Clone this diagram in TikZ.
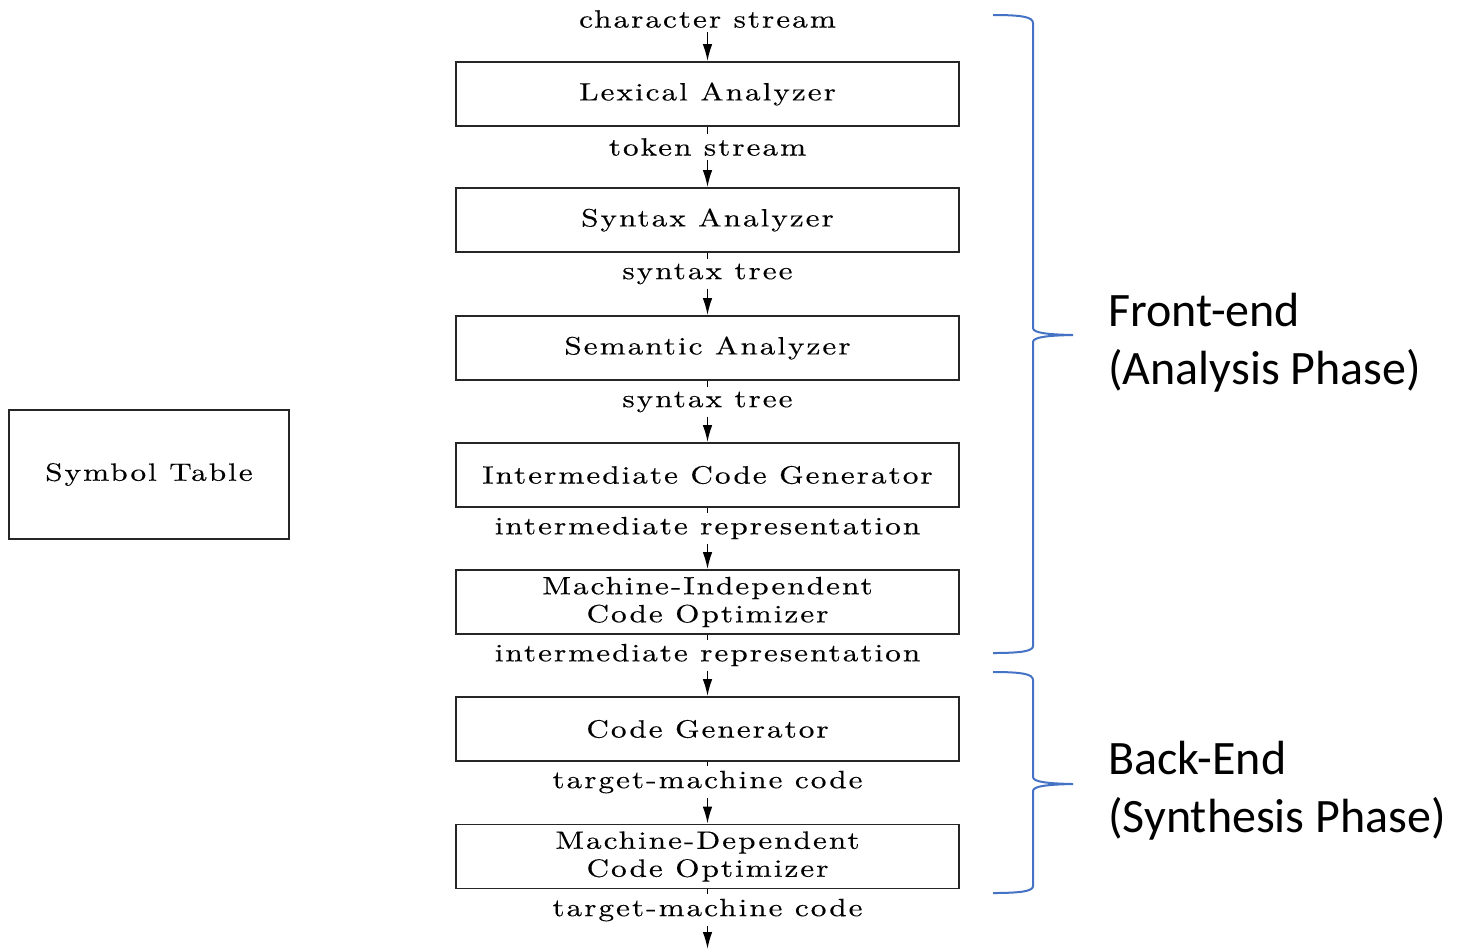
\documentclass[tikz,border=0pt]{standalone}
\usepackage{fontspec}
\usetikzlibrary{arrows.meta}
\newfontfamily\lmsp[LetterSpace=8, FakeStretch=1.25, FakeBold=0.3]{lmroman10-regular.otf}
\newfontfamily\calib{Carlito}
\definecolor{braceblue}{HTML}{4472C4}
\begin{document}
\begin{tikzpicture}[x=0.5pt,y=-0.5pt,
  phase/.style={draw=black!85, line width=0.9pt, minimum width=251.5pt,
    minimum height=32pt, inner sep=0pt, align=center,
    font=\lmsp\fontsize{12.5}{14}\selectfont},
  flowlabel/.style={inner sep=2pt, font=\lmsp\fontsize{12.5}{14}\selectfont},
  link/.style={line width=0.8pt},
  flow/.style={line width=0.8pt, -{Latex[length=8.5pt,width=4.8pt]}},
  brace/.style={draw=braceblue, line width=1pt},
  phasename/.style={font=\calib\fontsize{24}{29}\selectfont, align=left, anchor=west, inner sep=0pt}]
\useasboundingbox (0,0) rectangle (1462,950);

% compiler phases
\node[phase] (lex) at (707.5,94)  {Lexical Analyzer};
\node[phase] (syn) at (707.5,220) {Syntax Analyzer};
\node[phase] (sem) at (707.5,348) {Semantic Analyzer};
\node[phase] (icg) at (707.5,475) {Intermediate Code Generator};
\node[phase] (mio) at (707.5,602) {Machine-Independent\\Code Optimizer};
\node[phase] (cg)  at (707.5,729) {Code Generator};
\node[phase] (mdo) at (707.5,856.5) {Machine-Dependent\\Code Optimizer};

\node[phase, minimum width=140pt, minimum height=64.5pt] (sym) at (149,474.5) {Symbol Table};

% data passed between phases
\node[flowlabel] (l0) at (707.5,19)  {character stream};
\node[flowlabel] (l1) at (707.5,147) {token stream};
\node[flowlabel] (l2) at (707.5,274) {syntax tree};
\node[flowlabel] (l3) at (707.5,402) {syntax tree};
\node[flowlabel] (l4) at (707.5,528) {intermediate representation};
\node[flowlabel] (l5) at (707.5,655) {intermediate representation};
\node[flowlabel] (l6) at (707.5,782) {target-machine code};
\node[flowlabel] (l7) at (707.5,910) {target-machine code};
\coordinate (out) at (707.5,949);

\draw[flow] (l0) -- (lex);
\draw[link] (lex) -- (l1); \draw[flow] (l1) -- (syn);
\draw[link] (syn) -- (l2); \draw[flow] (l2) -- (sem);
\draw[link] (sem) -- (l3); \draw[flow] (l3) -- (icg);
\draw[link] (icg) -- (l4); \draw[flow] (l4) -- (mio);
\draw[link] (mio) -- (l5); \draw[flow] (l5) -- (cg);
\draw[link] (cg)  -- (l6); \draw[flow] (l6) -- (mdo);
\draw[link] (mdo) -- (l7); \draw[flow] (l7) -- (out);

% front-end brace
\draw[brace] (993,15) .. controls (1022,15) and (1033,17) .. (1033,23)
  -- (1033,328) .. controls (1033,333) and (1048,334.5) .. (1073,335)
  .. controls (1048,335.5) and (1033,337) .. (1033,342)
  -- (1033,646) .. controls (1033,651) and (1022,653) .. (993,653);
% back-end brace
\draw[brace] (993,672) .. controls (1022,672) and (1033,674) .. (1033,680)
  -- (1033,777) .. controls (1033,782) and (1048,783.5) .. (1073,784)
  .. controls (1048,784.5) and (1033,786) .. (1033,791)
  -- (1033,886) .. controls (1033,891) and (1022,893) .. (993,893);

\node[phasename] (fe) at (1108,343) {Front-end\\(Analysis Phase)};
\node[phasename] (be) at (1108,791) {Back-End\\(Synthesis Phase)};
\end{tikzpicture}
\end{document}
